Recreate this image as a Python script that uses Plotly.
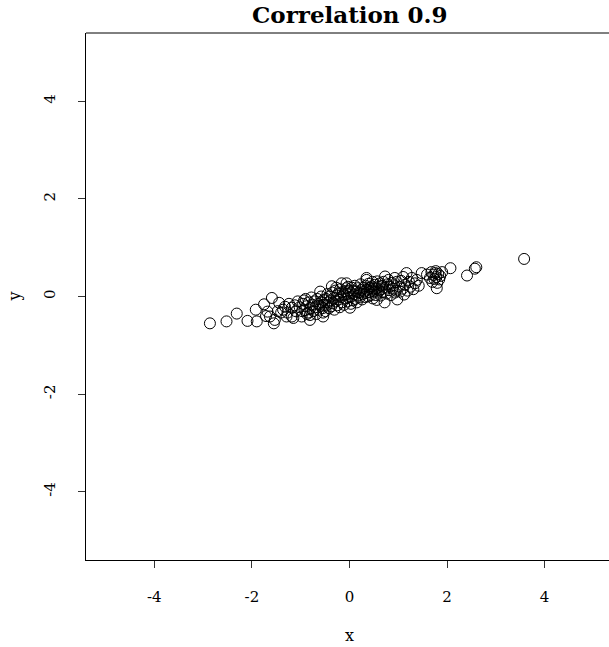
import plotly.graph_objects as go

# Sample drawn with correlation 0.9 (x, y pairs)
x_vals = [
    -2.86, -2.52, -2.31, -2.09, -1.90, -1.92, -1.75, -1.59, -1.68, -1.63,
    -1.53, -1.44, -1.40, -1.32, -1.18, -1.18, -1.06, -1.29, -1.55, -1.15,
    -1.71, -1.47, -1.36, -1.24, -1.10, -1.02, -1.27, -1.12,
    -0.98, -0.81, -0.81, -0.60, -0.54, -0.54, -0.95, -0.92, -0.90, -0.88,
    -0.85, -0.83, -0.80, -0.78, -0.76, -0.74, -0.72, -0.70, -0.68, -0.66,
    -0.64, -0.62, -0.60, -0.58, -0.57, -0.55, -0.53, -0.52, -0.97, -0.87,
    -0.93,
    -0.36, -0.16, -0.06, -0.06, -0.49, -0.48, -0.47, -0.45, -0.44, -0.42,
    -0.40, -0.39, -0.37, -0.35, -0.34, -0.32, -0.31, -0.29, -0.28, -0.26,
    -0.25, -0.23, -0.22, -0.20, -0.19, -0.17, -0.15, -0.14, -0.12, -0.11,
    -0.09, -0.08, -0.05, -0.04, -0.03, -0.02, -0.01, -0.27,
    0.01, 0.03, 0.35, 0.35, 0.02, 0.04, 0.05, 0.07, 0.08, 0.10,
    0.11, 0.12, 0.14, 0.15, 0.17, 0.18, 0.20, 0.21, 0.23, 0.24,
    0.26, 0.27, 0.29, 0.30, 0.32, 0.33, 0.34, 0.36, 0.38, 0.39,
    0.41, 0.42, 0.44, 0.45, 0.47, 0.48, 0.49, 0.46,
    0.56, 0.73, 0.93, 0.93, 0.80, 0.72, 0.98, 0.51, 0.52, 0.54,
    0.55, 0.57, 0.58, 0.60, 0.61, 0.63, 0.64, 0.66, 0.67, 0.69,
    0.70, 0.74, 0.76, 0.78, 0.81, 0.83, 0.85, 0.87, 0.89, 0.91,
    0.95, 0.97,
    1.17, 1.48, 1.02, 1.04, 1.06, 1.09, 1.12, 1.14, 1.19, 1.22,
    1.25, 1.28, 1.31, 1.34, 1.38, 1.42, 1.10,
    1.59, 1.65, 1.68, 1.70, 1.72, 1.74, 1.76, 1.78, 1.80, 1.82,
    1.84, 1.86, 1.79, 1.90, 1.77,
    2.07, 2.41, 2.57, 2.60, 3.58,
]
y_vals = [
    -0.55, -0.51, -0.35, -0.50, -0.51, -0.27, -0.16, -0.03, -0.31, -0.41,
    -0.48, -0.13, -0.33, -0.21, -0.23, -0.41, -0.10, -0.41, -0.55, -0.44,
    -0.40, -0.30, -0.27, -0.15, -0.30, -0.22, -0.33, -0.18,
    -0.41, -0.38, -0.48, 0.10, -0.33, -0.41, -0.15, -0.28, -0.05, -0.20,
    -0.33, -0.12, -0.24, -0.02, -0.17, -0.30, -0.10, -0.22, -0.36, -0.05,
    -0.15, -0.27, -0.19, 0.00, -0.12, -0.24, -0.07, -0.17, -0.30, -0.36,
    -0.08,
    0.21, 0.27, 0.17, 0.27, -0.30, -0.05, -0.18, 0.05, -0.12, -0.24,
    0.00, -0.08, -0.20, 0.08, -0.14, -0.03, -0.27, 0.12, -0.10, 0.02,
    -0.18, 0.06, -0.06, -0.22, 0.15, -0.01, -0.12, 0.09, 0.03, -0.17,
    0.11, -0.04, 0.05, -0.10, 0.20, -0.02, 0.12, 0.18,
    -0.23, -0.15, 0.34, 0.38, 0.08, 0.00, 0.18, -0.08, 0.12, 0.04,
    0.22, -0.05, 0.10, -0.12, 0.17, 0.02, 0.08, -0.02, 0.25, 0.13,
    -0.06, 0.05, 0.18, 0.10, -0.01, 0.22, 0.07, 0.14, 0.00, 0.26,
    0.09, 0.18, 0.03, 0.12, 0.30, -0.04, 0.16, 0.21,
    -0.07, 0.41, 0.38, 0.08, 0.34, -0.12, -0.06, 0.10, 0.24, 0.03,
    0.17, 0.31, 0.08, 0.20, 0.12, 0.27, 0.02, 0.15, 0.22, 0.09,
    0.30, 0.18, 0.06, 0.25, 0.13, 0.20, 0.03, 0.28, 0.16, 0.23,
    0.12, 0.30,
    0.48, 0.48, 0.20, 0.10, 0.32, 0.16, 0.04, 0.24, 0.12, 0.30,
    0.20, 0.38, 0.15, 0.27, 0.34, 0.22, 0.40,
    0.45, 0.38, 0.50, 0.30, 0.44, 0.36, 0.48, 0.40, 0.28, 0.46,
    0.35, 0.42, 0.17, 0.50, 0.52,
    0.58, 0.43, 0.57, 0.60, 0.77,
]

tick_vals = [-4, -2, 0, 2, 4]
tick_text = ["-4", "-2", "0", "2", "4"]

FONT = "DejaVu Serif, Liberation Serif, serif"

fig = go.Figure(
    go.Scatter(
        x=x_vals,
        y=y_vals,
        mode="markers",
        marker=dict(symbol="circle-open", size=11, color="black",
                    line=dict(width=1, color="black")),
        hoverinfo="skip",
    )
)

axis_common = dict(
    tickmode="array",
    tickvals=tick_vals,
    ticktext=tick_text,
    ticks="outside",
    ticklen=7,
    tickwidth=1.2,
    tickcolor="#333333",
    showline=True,
    linecolor="black",
    linewidth=1,
    showgrid=False,
    zeroline=False,
    tickfont=dict(size=15, color="black", family=FONT),
)

fig.update_layout(
    template="none",
    width=609,
    height=647,
    margin=dict(l=86, r=0, t=33, b=87),
    paper_bgcolor="white",
    plot_bgcolor="white",
    showlegend=False,
    font=dict(family=FONT, color="black", size=15),
    xaxis=dict(range=[-5.4, 5.32], ticklabelstandoff=16, **axis_common),
    yaxis=dict(range=[-5.4, 5.4], tickangle=-90, ticklabelstandoff=17,
               **axis_common),
    # top edge of the plot frame
    shapes=[dict(type="line", xref="paper", yref="paper", x0=0, x1=1,
                 y0=1, y1=1, line=dict(color="black", width=1))],
    annotations=[
        dict(text="<b>Correlation 0.9</b>", xref="paper", yref="paper",
             x=0.5, y=1, yshift=19, xshift=2, xanchor="center",
             yanchor="middle", showarrow=False,
             font=dict(size=23, family=FONT, color="black")),
        dict(text="x", xref="paper", yref="paper", x=0.5, y=0,
             yshift=-75, xshift=2, xanchor="center", yanchor="middle",
             showarrow=False, font=dict(size=16, color="black")),
        dict(text="y", xref="paper", yref="paper", x=0, y=0.5,
             xshift=-72, xanchor="center", yanchor="middle", textangle=-90,
             showarrow=False, font=dict(size=16, color="black")),
    ],
)

fig.write_html("out.html")
